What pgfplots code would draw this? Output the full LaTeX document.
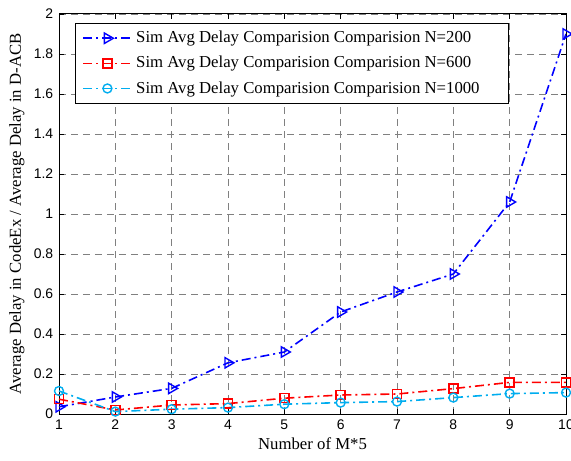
\documentclass[border=0pt]{standalone}
\usepackage{fontspec}
\setmainfont{Liberation Serif}
\newfontfamily\tickfont{Liberation Sans}
\usepackage{pgfplots}
\pgfplotsset{compat=1.18}
\begin{document}
\fontsize{16.8}{19}\selectfont
\begin{tikzpicture}
\begin{axis}[
  name=ax,
  scale only axis,
  width=507bp, height=400bp,
  xmin=1, xmax=10, ymin=0, ymax=2,
  xtick={1,...,10},
  ytick={0,0.2,...,2},
  yticklabels={0,0.2,0.4,0.6,0.8,1,1.2,1.4,1.6,1.8,2},
  /pgf/number format/assume math mode=true,
  tick label style={font=\tickfont\fontsize{14}{16}\selectfont},
  tick align=inside,
  tick pos=both,
  major tick length=5bp,
  grid=major,
  major grid style={dash pattern=on 7bp off 5bp, gray, line width=0.7pt},
  axis line style={line width=1pt},
  tick style={black, line width=0.8pt},
  xlabel={Number of M*5},
  ylabel={Average Delay in CodeEx / Average Delay in D-ACB},
  xlabel style={yshift=3pt},
  ylabel style={yshift=-2pt},
  legend image code/.code={\draw[mark repeat=2,mark phase=2,line width=1.6pt,#1] plot coordinates {(0bp,0bp) (24bp,0bp) (48bp,0bp)};},
  legend style={at={(0.032,0.978)}, anchor=north west, draw=black, line width=0.8pt, font=\fontsize{16.8}{19}\selectfont, row sep=7bp, inner xsep=7bp, inner ysep=6bp, nodes={inner xsep=4bp}},
  legend cell align=left,
]
\addplot[blue, dash pattern=on 9bp off 4bp on 2bp off 4bp, line width=1.6pt, mark=triangle, mark options={solid, rotate=270, line width=1.4pt}, mark size=6pt]
coordinates {(1,0.036)(2,0.085)(3,0.128)(4,0.256)(5,0.31)(6,0.51)(7,0.61)(8,0.70)(9,1.06)(10,1.90)};
\addlegendentry{Sim Avg Delay Comparision Comparision N=200}
\addplot[red, dash pattern=on 9bp off 4bp on 2bp off 4bp, line width=1.6pt, mark=square, mark options={solid, line width=1.4pt}, mark size=4.5pt]
coordinates {(1,0.074)(2,0.02)(3,0.045)(4,0.052)(5,0.079)(6,0.095)(7,0.10)(8,0.127)(9,0.158)(10,0.158)};
\addlegendentry{Sim Avg Delay Comparision Comparision N=600}
\addplot[cyan, dash pattern=on 9bp off 4bp on 2bp off 4bp, line width=1.6pt, mark=o, mark options={solid, line width=1.4pt}, mark size=4.5pt]
coordinates {(1,0.115)(2,0.012)(3,0.024)(4,0.032)(5,0.049)(6,0.057)(7,0.062)(8,0.082)(9,0.102)(10,0.107)};
\addlegendentry{Sim Avg Delay Comparision Comparision N=1000\hspace*{18bp}}
\end{axis}
\pgfresetboundingbox
\path ([shift={(-59bp,-47bp)}]ax.south west) rectangle ([shift={(5bp,14bp)}]ax.north east);
\end{tikzpicture}
\end{document}
